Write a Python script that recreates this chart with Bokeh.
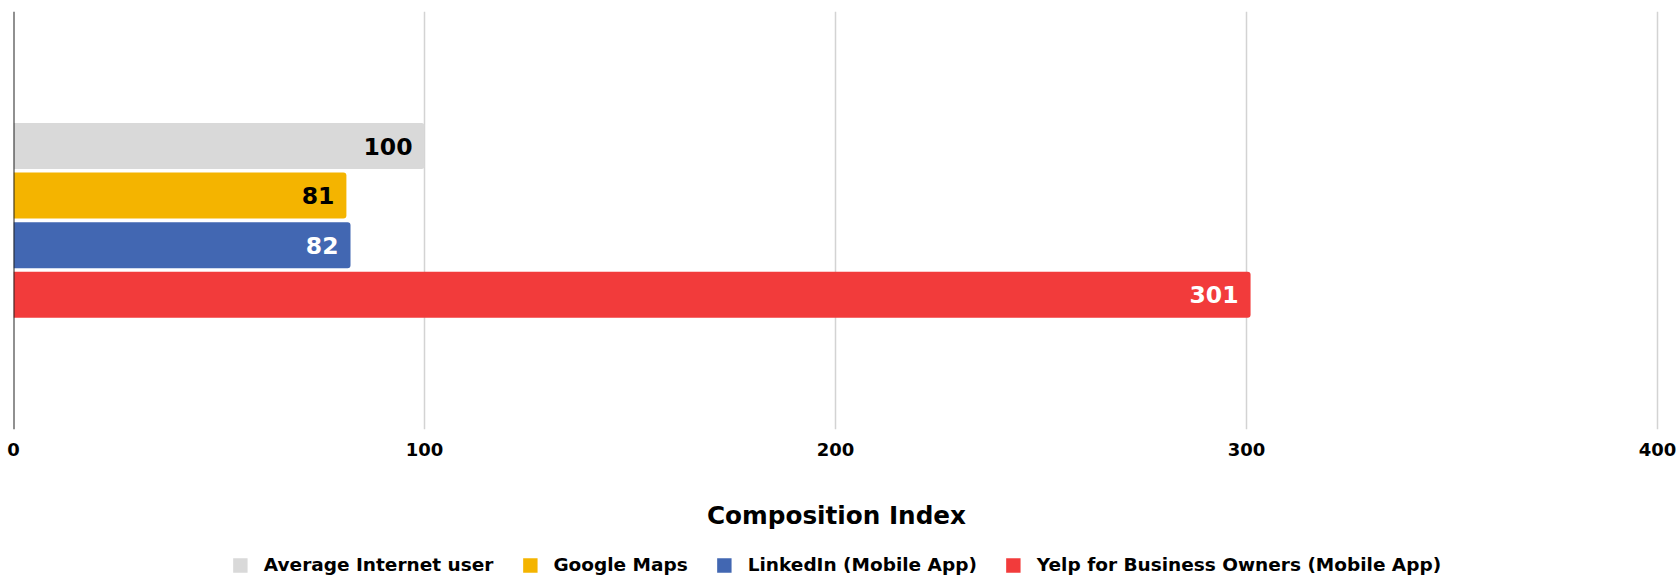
from bokeh.plotting import figure
from bokeh.layouts import column
from bokeh.models import Range1d, Span, Legend, LegendItem, FixedTicker
from bokeh.core.properties import value
from bokeh.embed import file_html
from bokeh.resources import INLINE

series = ["Average Internet user", "Google Maps", "LinkedIn (Mobile App)",
          "Yelp for Business Owners (Mobile App)"]
values = [100, 81, 82, 301]
colors = ["#d9d9d9", "#f4b400", "#4267b2", "#f23b3b"]
label_colors = ["#000000", "#000000", "#ffffff", "#ffffff"]
x_ticks = [0, 100, 200, 300, 400]
axis_title = "Composition Index"

FONT = "DejaVu Sans"

p = figure(width=1676, height=540, output_backend="svg", toolbar_location=None,
           x_range=Range1d(0, 400.5), y_range=Range1d(5.716, -2.712),
           y_axis_location=None,
           min_border_left=13, min_border_right=17, min_border_top=11,
           min_border_bottom=111)
p.outline_line_color = None
p.background_fill_color = "white"
p.border_fill_color = "white"

# grid
p.xgrid.ticker = FixedTicker(ticks=x_ticks[1:])
p.xgrid.grid_line_color = "#d3d3d3"
p.xgrid.grid_line_width = 1.5
p.ygrid.grid_line_color = None

for i, (v, c) in enumerate(zip(values, colors)):
    p.hbar(y=[i], left=0, right=[v], height=0.927, fill_color=c,
           line_color=None, border_radius=(0, 3, 3, 0))

p.text(x=values, y=list(range(len(values))), text=[str(v) for v in values],
       x_offset=-12, text_align="right", text_baseline="middle",
       text_font=value(FONT), text_font_style="bold", text_font_size="23.5px",
       text_color=label_colors)

# left axis line
p.add_layout(Span(location=0, dimension="height", line_color="#222222",
                  line_width=2))

ax = p.xaxis[0]
ax.ticker = FixedTicker(ticks=x_ticks)
ax.axis_line_color = None
ax.major_tick_line_color = None
ax.minor_tick_line_color = None
ax.major_tick_out = 0
ax.major_label_standoff = 13
ax.major_label_text_font = FONT
ax.major_label_text_font_style = "bold"
ax.major_label_text_font_size = "18px"
ax.major_label_text_color = "#000000"
ax.axis_label = axis_title
ax.axis_label_standoff = 42
ax.axis_label_text_font = FONT
ax.axis_label_text_font_style = "bold"
ax.axis_label_text_font_size = "24.7px"
ax.axis_label_text_color = "#000000"

# legend strip
lg = figure(width=1676, height=37, output_backend="svg", toolbar_location=None,
            x_range=Range1d(0, 1), y_range=Range1d(0, 1),
            x_axis_location=None, y_axis_location=None,
            min_border_left=0, min_border_right=0, min_border_top=0,
            min_border_bottom=0)
lg.outline_line_color = None
lg.xgrid.visible = False
lg.ygrid.visible = False
items = []
for s, c in zip(series, colors):
    # zero-width swatch source: only the legend swatch shows
    r = lg.hbar(y=[0.5], left=[0], right=[0], height=0.5, fill_color=c, line_color=None)
    items.append(LegendItem(label=s, renderers=[r]))

legend = Legend(items=items, orientation="horizontal", location="bottom_center",
                glyph_width=18, glyph_height=18, label_height=18,
                label_standoff=15, spacing=27, padding=0, margin=2,
                border_line_color=None, background_fill_alpha=0,
                label_text_font=FONT, label_text_font_style="bold",
                label_text_font_size="18.5px", label_text_color="#000000")
lg.add_layout(legend)

layout = column(p, lg, spacing=0)
open("out.html", "w").write(file_html(layout, INLINE))
